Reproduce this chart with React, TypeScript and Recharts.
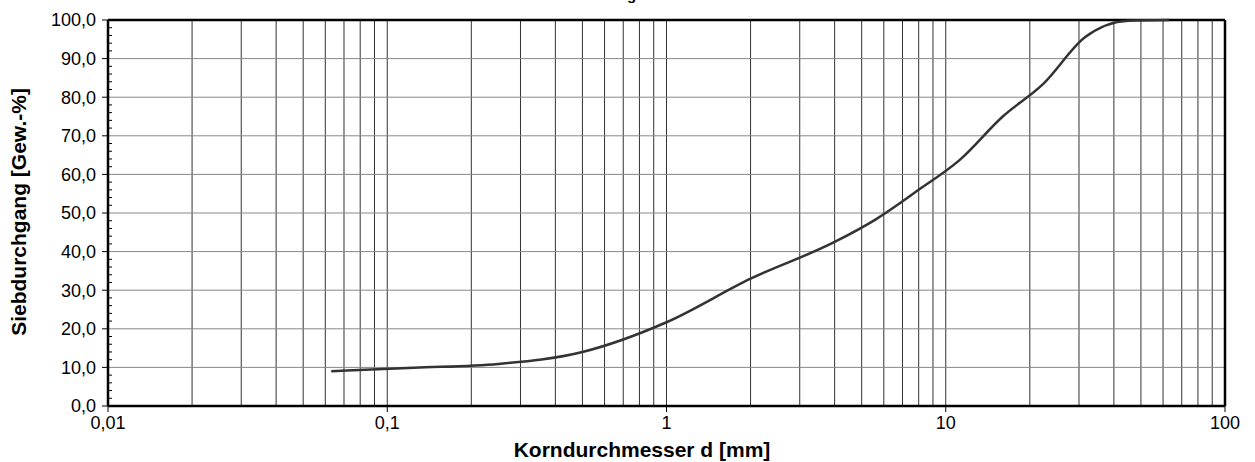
import { LineChart, Line, XAxis, YAxis, ReferenceLine, Label } from 'recharts';

// Sieve sizes [mm] and passing percentages
const sieveSizes = [0.063, 0.125, 0.25, 0.5, 1, 2, 4, 5.6, 8, 11.2, 16, 22.4, 31.5, 45, 63];
const passing = [9.0, 9.9, 10.9, 14.0, 21.7, 33.0, 42.5, 48.3, 56.0, 63.7, 75.0, 83.5, 95.5, 99.8, 100.0];

const xTicks = [0.01, 0.1, 1, 10, 100];
const xTickLabels = ['0,01', '0,1', '1', '10', '100'];
const yTicks = [0, 2, 4, 6, 8, 10, 12, 14, 16, 18, 20, 22, 24, 26, 28, 30, 32, 34, 36, 38, 40, 42, 44, 46, 48, 50,
  52, 54, 56, 58, 60, 62, 64, 66, 68, 70, 72, 74, 76, 78, 80, 82, 84, 86, 88, 90, 92, 94, 96, 98, 100];
const yGrid = [10, 20, 30, 40, 50, 60, 70, 80, 90];
const xGrid = [
  0.02, 0.03, 0.04, 0.05, 0.06, 0.07, 0.08, 0.09, 0.1,
  0.2, 0.3, 0.4, 0.5, 0.6, 0.7, 0.8, 0.9, 1,
  2, 3, 4, 5, 6, 7, 8, 9, 10,
  20, 30, 40, 50, 60, 70, 80, 90,
];

const FONT = 'Arial, "Liberation Sans", sans-serif';

const data = sieveSizes.map((d, i) => ({ d, p: passing[i] }));

function YTick(props: any) {
  const { x, y, payload } = props;
  const v = payload.value as number;
  if (v % 10 !== 0) {
    return <line x1={x} x2={x + 4} y1={y} y2={y} stroke="#000" strokeWidth={1} />;
  }
  return (
    <g>
      <line x1={x - 6} x2={x} y1={y} y2={y} stroke="#000" strokeWidth={1} />
      <text x={x - 12} y={y} dy="0.36em" textAnchor="end" fontSize={18} fontFamily={FONT} fill="#000">
        {v.toFixed(1).replace('.', ',')}
      </text>
    </g>
  );
}

function YLabel() {
  return (
    <text
      x={26}
      y={212}
      transform="rotate(-90 26 212)"
      textAnchor="middle"
      fontSize={21}
      fontWeight="bold"
      fontFamily={FONT}
      fill="#000"
    >
      Siebdurchgang [Gew.-%]
    </text>
  );
}

function XLabel() {
  return (
    <text x={642} y={457} textAnchor="middle" fontSize={21} fontWeight="bold" fontFamily={FONT} fill="#000">
      Korndurchmesser d [mm]
    </text>
  );
}

export default function App() {
  return (
    <div style={{ position: 'absolute', left: 0, top: 0, width: 1255, height: 462, background: '#fff' }}>
      <LineChart width={1255} height={462} data={data} margin={{ top: 20, right: 30, left: 8, bottom: 26 }}>
        {xGrid.map((v) => (
          <ReferenceLine key={`x${v}`} x={v} stroke="#333" strokeWidth={1} />
        ))}
        {yGrid.map((v) => (
          <ReferenceLine key={`y${v}`} y={v} stroke="#888" strokeWidth={1} />
        ))}
        <XAxis
          dataKey="d"
          type="number"
          scale="log"
          domain={[0.01, 100]}
          ticks={xTicks}
          allowDataOverflow
          height={30}
          axisLine={{ stroke: '#000', strokeWidth: 2.5 }}
          tickLine={{ stroke: '#000' }}
          tickSize={6}
          tickMargin={4}
          tick={{ fontSize: 18, fontFamily: FONT, fill: '#000' }}
          tickFormatter={(v: number) => xTickLabels[xTicks.indexOf(v)] ?? String(v)}
        >
          <Label content={<XLabel />} />
        </XAxis>
        <YAxis
          type="number"
          domain={[0, 100]}
          ticks={yTicks}
          interval={0}
          width={100}
          axisLine={{ stroke: '#000', strokeWidth: 2.5 }}
          tickLine={false}
          tickSize={0}
          tickMargin={0}
          tick={<YTick />}
        >
          <Label content={<YLabel />} />
        </YAxis>
        <ReferenceLine y={100} stroke="#000" strokeWidth={2.5} />
        <ReferenceLine x={100} stroke="#000" strokeWidth={2.5} />
        <Line
          type="monotone"
          dataKey="p"
          stroke="#333"
          strokeWidth={2.5}
          dot={false}
          isAnimationActive={false}
        />
        <text x={624} y={0} textAnchor="middle" fontSize={15} fontWeight="bold" fontFamily={FONT} fill="#000">
          Körnungslinie
        </text>
      </LineChart>
    </div>
  );
}
